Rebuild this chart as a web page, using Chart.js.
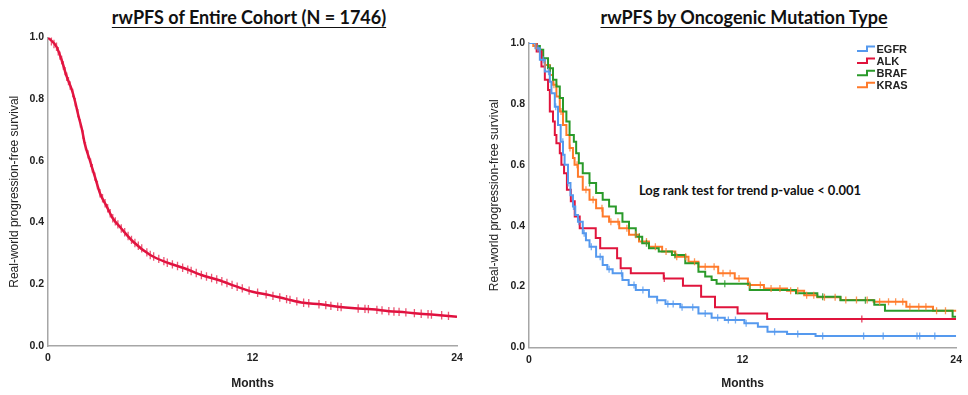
<!DOCTYPE html>
<html>
<head>
<meta charset="utf-8">
<script src="https://cdn.jsdelivr.net/npm/chart.js@4.4.0/dist/chart.umd.min.js"></script>
<style>
  body { margin: 0; background: #fff; width: 968px; height: 395px; position: relative; overflow: hidden; }
  .box { position: absolute; top: 0; height: 395px; }
  #leftBox { left: 0; width: 480px; }
  #rightBox { left: 480px; width: 488px; }
  .ttl { position: absolute; top: 6px; font-family: Lato, "Open Sans", sans-serif; font-weight: bold; font-size: 18px;
         text-decoration: underline; text-underline-offset: 3px; color: #111; white-space: nowrap; transform: translateX(-50%); }
  .note { position: absolute; top: 182px; left: 750px; transform: translateX(-50%); font-family: Lato, "Open Sans", sans-serif;
          font-weight: bold; font-size: 13px; color: #111; white-space: nowrap; }
</style>
</head>
<body>
<div class="ttl" style="left:249px">rwPFS of Entire Cohort (N = 1746)</div>
<div class="ttl" style="left:744px">rwPFS by Oncogenic Mutation Type</div>
<div class="note">Log rank test for trend p-value &lt; 0.001</div>
<div class="box" id="leftBox"><canvas id="leftChart"></canvas></div>
<div class="box" id="rightBox"><canvas id="rightChart"></canvas></div>
<script>
// entire cohort (months, survival)
const cohortMonths = [0, 0.5, 0.8, 1.1, 1.4, 1.6, 1.8, 2.0, 2.15, 2.45, 2.75, 3.05, 3.45, 3.8, 4.3, 5.0, 6.0, 7.0, 8.0, 9.0, 10, 11, 12, 13, 14, 15, 16, 17, 18, 19, 20, 21, 22, 23, 24];
const cohortSurv   = [1.0, 0.97, 0.927, 0.873, 0.83, 0.79, 0.743, 0.70, 0.657, 0.603, 0.549, 0.495, 0.452, 0.414, 0.381, 0.338, 0.295, 0.27, 0.252, 0.23, 0.214, 0.194, 0.176, 0.165, 0.152, 0.14, 0.135, 0.127, 0.122, 0.119, 0.113, 0.109, 0.104, 0.10, 0.095];
const cohortCensor = [0.2, 0.35, 0.5, 0.6, 0.7, 0.8, 0.9, 1.0, 1.1, 1.2, 1.3, 1.45, 1.6, 1.75, 1.9, 2.05, 2.2, 2.35, 2.5, 2.6, 2.75, 2.9, 3.05, 3.2, 3.35, 3.5, 3.65, 3.8, 3.95, 4.1, 4.3, 4.5, 4.7, 4.9, 5.1, 5.3, 5.5, 5.8, 6.0, 6.2, 6.5, 6.8, 7.0, 7.3, 7.6, 7.9, 8.2, 8.4, 8.7, 9.0, 9.3, 9.6, 9.9, 10.2, 10.5, 10.8, 11.1, 11.4, 11.8, 12.3, 12.8, 13.2, 13.6, 14.0, 14.2, 14.6, 15.0, 15.3, 15.9, 16.3, 16.6, 17.0, 17.2, 18.2, 18.6, 18.8, 19.3, 19.6, 20.0, 20.3, 20.6, 21.0, 21.5, 21.9, 22.3, 22.5, 23.1, 23.5];

// by mutation type: event times (months) and survival after each event
const egfrMonths = [0, 0.36, 0.61, 0.89, 1.17, 1.26, 1.45, 1.63, 1.78, 1.91, 2.0, 2.19, 2.33, 2.47, 2.6, 2.75, 3.02, 3.2, 3.4, 3.77, 4.14, 4.4, 4.7, 5.25, 5.6, 6.0, 6.74, 7.2, 7.67, 8.5, 9.52, 10.26, 11.0, 12.1, 12.86, 13.4, 14.5, 16.1, 24];
const egfrSurv   = [1.0, 0.983, 0.945, 0.906, 0.873, 0.835, 0.791, 0.731, 0.676, 0.633, 0.60, 0.54, 0.50, 0.463, 0.435, 0.413, 0.375, 0.352, 0.331, 0.298, 0.271, 0.257, 0.244, 0.222, 0.205, 0.189, 0.167, 0.155, 0.143, 0.132, 0.112, 0.098, 0.09, 0.08, 0.068, 0.052, 0.044, 0.038, 0.038];
const egfrCensor = [0.5, 0.8, 1.1, 1.5, 1.9, 2.2, 2.5, 2.8, 3.1, 3.5, 4.0, 4.5, 5.2, 5.9, 6.4, 7.2, 7.8, 8.1, 8.6, 9.2, 9.9, 10.6, 11.2, 11.6, 12.2, 13.8, 15.1, 16.5, 18.8, 19.9, 21.8, 21.95, 22.8];

const alkMonths = [0, 0.43, 0.7, 0.89, 1.07, 1.17, 1.35, 1.45, 1.54, 1.73, 1.82, 1.97, 2.13, 2.35, 2.57, 2.85, 3.75, 4.0, 4.95, 5.15, 5.72, 7.57, 8.65, 9.67, 10.45, 11.72, 13.38, 24];
const alkSurv   = [1.0, 0.972, 0.923, 0.879, 0.846, 0.775, 0.742, 0.698, 0.671, 0.638, 0.60, 0.572, 0.518, 0.48, 0.43, 0.392, 0.36, 0.326, 0.293, 0.26, 0.244, 0.227, 0.203, 0.167, 0.132, 0.112, 0.094, 0.094];
const alkCensor = [7.6, 18.7];

const brafMonths = [0, 0.43, 0.61, 0.8, 1.07, 1.35, 1.54, 1.73, 1.91, 2.1, 2.28, 2.52, 2.65, 2.8, 3.02, 3.4, 3.77, 4.14, 4.5, 4.88, 5.25, 5.62, 6.0, 6.36, 6.74, 7.29, 8.03, 8.78, 9.52, 9.9, 10.26, 10.54, 12.4, 15.0, 16.2, 17.5, 19.4, 20.0, 23.8, 24];
const brafSurv   = [1.0, 0.99, 0.978, 0.95, 0.917, 0.879, 0.857, 0.819, 0.775, 0.742, 0.698, 0.676, 0.638, 0.605, 0.572, 0.54, 0.507, 0.485, 0.463, 0.441, 0.413, 0.392, 0.364, 0.342, 0.326, 0.315, 0.304, 0.277, 0.249, 0.233, 0.222, 0.209, 0.189, 0.178, 0.167, 0.155, 0.14, 0.121, 0.101, 0.101];
const brafCensor = [1.2, 3.4, 6.2, 6.6, 8.2, 11.0, 16.5, 18.9];

const krasMonths = [0, 0.24, 0.52, 0.7, 0.89, 1.17, 1.35, 1.54, 1.73, 1.91, 2.1, 2.28, 2.47, 2.56, 2.75, 3.02, 3.4, 3.77, 4.14, 4.5, 5.07, 5.62, 6.18, 6.74, 7.48, 8.22, 8.96, 9.52, 10.63, 11.56, 12.3, 13.2, 14.5, 15.46, 16.2, 17.5, 19.36, 21.2, 22.7, 24];
const krasSurv   = [1.0, 0.99, 0.978, 0.945, 0.928, 0.895, 0.863, 0.824, 0.775, 0.731, 0.698, 0.655, 0.622, 0.60, 0.561, 0.518, 0.485, 0.457, 0.43, 0.413, 0.392, 0.37, 0.348, 0.331, 0.315, 0.298, 0.282, 0.265, 0.244, 0.227, 0.205, 0.194, 0.186, 0.172, 0.165, 0.156, 0.15, 0.134, 0.121, 0.117];
const krasCensor = [0.4, 0.9, 1.4, 1.8, 2.3, 2.7, 3.2, 3.6, 4.1, 4.6, 5.0, 5.5, 6.0, 6.6, 7.1, 7.7, 8.3, 8.8, 9.3, 9.9, 10.4, 10.9, 11.3, 11.8, 12.4, 13.0, 13.6, 14.1, 14.7, 15.1, 15.6, 16.0, 16.6, 17.2, 17.8, 18.4, 19.0, 19.7, 20.2, 20.6, 21.0, 21.4, 21.9, 22.3, 22.9, 23.4];

const yTicks = [0, 0.2, 0.4, 0.6, 0.8, 1.0];
const xTicks = [0, 12, 24];

const tickFont = { family: '"Liberation Sans", Arial, sans-serif', size: 10.5, weight: 'bold' };
const axisGray = '#a6a6a6';

function toPoints(xs, ys) {
    return xs.map((x, i) => ({ x: x, y: ys[i] }));
}

// where a censored subject sits on the curve
function censorPoints(times, xs, ys, stepped) {
    return times.map(t => {
        let i = 0;
        while (i < xs.length - 1 && xs[i + 1] <= t) i++;
        let y = ys[i];
        if (!stepped && i < xs.length - 1) {
            const f = (t - xs[i]) / (xs[i + 1] - xs[i]);
            y = ys[i] + f * (ys[i + 1] - ys[i]);
        }
        return { x: t, y: y };
    });
}

function curve(label, xs, ys, color, stepped, width) {
    return {
        label: label, data: toPoints(xs, ys), borderColor: color, backgroundColor: color,
        borderWidth: width, pointRadius: 0, stepped: stepped ? 'before' : false,
        cubicInterpolationMode: stepped ? 'default' : 'monotone', fill: false, inLegend: true, order: 2
    };
}

function censors(times, xs, ys, color, stepped, r) {
    return {
        label: '', data: censorPoints(times, xs, ys, stepped), showLine: false,
        pointStyle: 'line', rotation: 90, pointRadius: r, pointBorderWidth: 1.3,
        borderColor: color, backgroundColor: color, inLegend: false, order: 1
    };
}

function makeScales(yTitlePad) {
    return {
        x: {
            type: 'linear', min: 0, max: 24,
            afterBuildTicks: s => { s.ticks = xTicks.map(v => ({ value: v })); },
            grid: { display: false, drawTicks: false },
            border: { color: axisGray, width: 1.5 },
            ticks: { font: tickFont, color: '#222', padding: 6, maxRotation: 0 },
            title: { display: true, text: 'Months', color: '#222', padding: { top: 8 },
                     font: { family: '"Liberation Sans", Arial, sans-serif', size: 12, weight: 'bold' } }
        },
        y: {
            min: 0, max: 1,
            afterBuildTicks: s => { s.ticks = yTicks.map(v => ({ value: v })); },
            grid: { display: false, drawTicks: false },
            border: { color: axisGray, width: 1.5 },
            ticks: { font: tickFont, color: '#222', padding: 4, callback: v => v.toFixed(1) },
            title: { display: true, text: 'Real-world progression-free survival', color: '#222',
                     padding: { top: yTitlePad, bottom: 0 },
                     font: { family: '"Liberation Sans", Arial, sans-serif', size: 12 } }
        }
    };
}

// step-shaped legend inside the plot, like the original
const stepLegend = {
    id: 'stepLegend',
    afterDraw(chart) {
        const ctx = chart.ctx;
        const rows = chart.data.datasets.filter(d => d.inLegend);
        rows.forEach((d, i) => {
            const x = 377, y = 49 + i * 12.1;
            ctx.save();
            ctx.strokeStyle = d.borderColor;
            ctx.lineWidth = 2;
            ctx.beginPath();
            ctx.moveTo(x, y + 2);
            ctx.lineTo(x + 10, y + 2);
            ctx.lineTo(x + 10, y - 2.5);
            ctx.lineTo(x + 18, y - 2.5);
            ctx.stroke();
            ctx.fillStyle = '#222';
            ctx.font = 'bold 11px "Liberation Sans", Arial, sans-serif';
            ctx.textBaseline = 'middle';
            ctx.fillText(d.label, x + 19.5, y + 0.5);
            ctx.restore();
        });
    }
};

const leftScales = makeScales(7);
leftScales.y.afterFit = s => { s.width = 48; };
leftScales.x.afterFit = s => { s.height = 49; };

new Chart(document.getElementById('leftChart').getContext('2d'), {
    type: 'line',
    data: {
        datasets: [
            curve('Entire cohort', cohortMonths, cohortSurv, '#e0103e', false, 2.5),
            censors(cohortCensor, cohortMonths, cohortSurv, 'rgba(228,30,70,0.75)', false, 4.2)
        ]
    },
    options: {
        responsive: true, maintainAspectRatio: false, animation: false,
        layout: { padding: { left: 0, right: 23, top: 37.5, bottom: 0 } },
        scales: leftScales,
        plugins: { legend: { display: false }, tooltip: { enabled: false } }
    }
});

const rightScales = makeScales(7);
rightScales.y.afterFit = s => { s.width = 49; };
rightScales.x.afterFit = s => { s.height = 47.5; };

new Chart(document.getElementById('rightChart').getContext('2d'), {
    type: 'line',
    data: {
        datasets: [
            curve('EGFR', egfrMonths, egfrSurv, '#5599ee', true, 2),
            curve('ALK', alkMonths, alkSurv, '#e0143c', true, 2),
            curve('BRAF', brafMonths, brafSurv, '#2a9a2a', true, 2),
            curve('KRAS', krasMonths, krasSurv, '#ff7a2a', true, 2),
            censors(egfrCensor, egfrMonths, egfrSurv, 'rgba(85,153,238,0.8)', true, 3.5),
            censors(alkCensor, alkMonths, alkSurv, 'rgba(224,20,60,0.8)', true, 3.5),
            censors(brafCensor, brafMonths, brafSurv, 'rgba(42,154,42,0.8)', true, 3.5),
            censors(krasCensor, krasMonths, krasSurv, 'rgba(255,122,42,0.8)', true, 3.5)
        ]
    },
    options: {
        responsive: true, maintainAspectRatio: false, animation: false,
        layout: { padding: { left: 0, right: 8, top: 43, bottom: 0 } },
        scales: rightScales,
        plugins: { legend: { display: false }, tooltip: { enabled: false } }
    },
    plugins: [stepLegend]
});
</script>
</body>
</html>
